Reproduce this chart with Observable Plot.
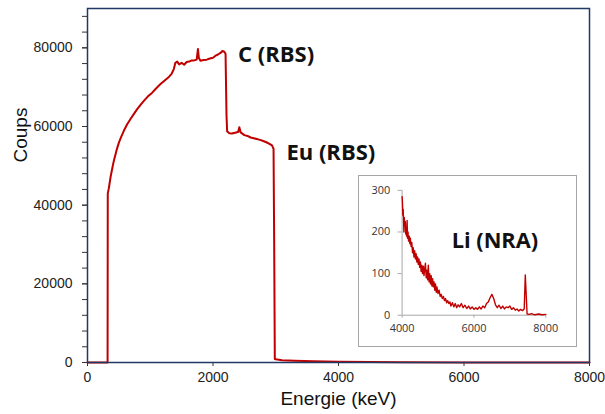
<!DOCTYPE html>
<html>
<head>
<meta charset="utf-8">
<script src="https://cdn.jsdelivr.net/npm/d3@7"></script>
<script src="https://cdn.jsdelivr.net/npm/@observablehq/plot@0.6"></script>
<style>
  html, body { margin: 0; padding: 0; background: white; }
  #wrap { position: relative; width: 605px; height: 414px; }
  #inset { position: absolute; left: 358px; top: 175px; width: 219px; height: 172px; box-sizing: border-box; border: 1px solid #a6a6a6; background: white; }
  #inset svg { position: absolute; left: -1px; top: -1px; overflow: visible; }
</style>
</head>
<body>
<div id="wrap"><div id="inset"></div></div>
<script>
// Main spectrum (RBS)
const mainEnergy = [0, 320, 323, 340, 367, 395, 420, 460, 500, 540, 579, 630, 685, 740, 792, 845, 898, 960, 1031, 1100, 1164, 1230, 1297, 1340, 1376, 1400, 1430, 1460, 1500, 1540, 1580, 1620, 1660, 1700, 1740, 1760, 1775, 1800, 1850, 1900, 1950, 2000, 2040, 2080, 2120, 2150, 2180, 2200, 2215, 2225, 2260, 2300, 2350, 2400, 2420, 2440, 2500, 2550, 2600, 2650, 2700, 2750, 2800, 2850, 2900, 2940, 2965, 2975, 2985, 3000, 3100, 3300, 3600, 4000, 4500, 5000, 6000, 7000, 8000];
const mainCounts = [0, 0, 43000, 44300, 47100, 49400, 51300, 53800, 55900, 57500, 58900, 60500, 61900, 63200, 64400, 65500, 66500, 67600, 68600, 69800, 70800, 71700, 72600, 73400, 74600, 76200, 76500, 75800, 76200, 75700, 76400, 76500, 76800, 76800, 77000, 79700, 77400, 76700, 76900, 77000, 77300, 77500, 78000, 78300, 78700, 79200, 79000, 78500, 63000, 58800, 58300, 58200, 58400, 58600, 59800, 58500, 57800, 57600, 57200, 57000, 56800, 56600, 56300, 56000, 55600, 55200, 54300, 30000, 900, 800, 600, 450, 300, 180, 100, 60, 25, 15, 5];

// Inset spectrum (NRA)
const insetEnergy = [4000, 4010, 4020, 4030, 4040, 4050, 4060, 4075, 4090, 4100, 4115, 4125, 4140, 4150, 4165, 4180, 4200, 4215, 4230, 4250, 4270, 4290, 4310, 4330, 4350, 4370, 4390, 4410, 4430, 4450, 4470, 4490, 4510, 4530, 4550, 4570, 4590, 4610, 4630, 4650, 4670, 4690, 4710, 4730, 4750, 4770, 4790, 4810, 4830, 4850, 4870, 4890, 4910, 4930, 4950, 4970, 5000, 5030, 5060, 5090, 5120, 5150, 5180, 5210, 5240, 5270, 5300, 5330, 5360, 5400, 5440, 5480, 5520, 5560, 5600, 5650, 5700, 5750, 5800, 5850, 5900, 5950, 6000, 6050, 6100, 6150, 6200, 6250, 6300, 6350, 6400, 6450, 6500, 6550, 6600, 6650, 6700, 6750, 6800, 6850, 6900, 6950, 7000, 7050, 7100, 7150, 7200, 7250, 7300, 7350, 7400, 7430, 7460, 7480, 7550, 7600, 7700, 7800, 7900, 8000];
const insetCounts = [285, 270, 240, 255, 230, 200, 235, 215, 225, 195, 210, 190, 228, 185, 200, 178, 190, 172, 185, 165, 175, 150, 162, 140, 155, 135, 148, 128, 140, 122, 135, 115, 128, 105, 120, 100, 118, 95, 112, 125, 90, 108, 85, 120, 80, 100, 75, 95, 70, 88, 68, 80, 60, 75, 55, 68, 52, 60, 45, 50, 40, 45, 35, 40, 30, 35, 28, 32, 22, 30, 20, 28, 18, 25, 20, 28, 18, 24, 16, 22, 15, 20, 14, 18, 14, 20, 15, 22, 18, 28, 32, 42, 50, 40, 25, 18, 24, 16, 22, 15, 20, 18, 22, 14, 18, 12, 15, 10, 14, 11, 15, 97, 40, 3, 2, 4, 1, 3, 1, 2];

const xTicks = [0, 2000, 4000, 6000, 8000];
const yTicks = [0, 20000, 40000, 60000, 80000];
const yMinorTicks = [0, 4000, 8000, 12000, 16000, 20000, 24000, 28000, 32000, 36000, 40000, 44000, 48000, 52000, 56000, 60000, 64000, 68000, 72000, 76000, 80000, 84000, 88000];
const insetXTicks = [4000, 6000, 8000];
const insetYTicks = [0, 100, 200, 300];

const peakLabels = [
  {e: 2400, c: 78200, label: "C (RBS)"},
  {e: 3170, c: 53400, label: "Eu (RBS)"}
];

const main = mainEnergy.map((e, i) => ({e, c: mainCounts[i]}));
const inset = insetEnergy.map((e, i) => ({e, c: insetCounts[i]}));
const fmt = d => String(d);

const mainPlot = Plot.plot({
  width: 605, height: 414,
  marginLeft: 87, marginRight: 16, marginTop: 8, marginBottom: 52,
  style: {fontFamily: "'Liberation Sans', Arial, sans-serif", fontSize: "14px", color: "#222", background: "white"},
  x: {domain: [0, 8000]},
  y: {domain: [0, 90000]},
  marks: [
    Plot.axisY({ticks: yMinorTicks, tickSize: 5, text: null, label: null, stroke: "#333"}),
    Plot.axisY({ticks: yTicks, tickSize: 5, tickPadding: 10, label: null, tickFormat: fmt, stroke: "#333"}),
    Plot.axisX({ticks: xTicks, tickSize: 4, tickPadding: 6, label: null, tickFormat: fmt, stroke: "#333"}),
    Plot.line(main, {x: "e", y: "c", stroke: "#c00000", strokeWidth: 2}),
    Plot.frame({stroke: "#1f3864", strokeWidth: 1.5}),
    Plot.text(peakLabels, {x: "e", y: "c", text: "label", textAnchor: "start", fontWeight: "bold", fontSize: 22, fontFamily: "'Open Sans', sans-serif", fill: "#111"}),
    Plot.text(["Coups"], {frameAnchor: "left", dx: -67, dy: -23, rotate: -90, fontSize: 19, fill: "#111"}),
    Plot.text(["Energie (keV)"], {frameAnchor: "bottom", dy: 42, fontSize: 19, fill: "#111"})
  ]
});
document.getElementById("wrap").insertBefore(mainPlot, document.getElementById("inset"));

const insetPlot = Plot.plot({
  width: 219, height: 172,
  marginLeft: 44, marginRight: 30, marginTop: 15, marginBottom: 31,
  style: {fontFamily: "'Open Sans', sans-serif", fontSize: "11px", color: "#333", background: "transparent"},
  x: {domain: [4000, 8000]},
  y: {domain: [0, 300]},
  marks: [
    Plot.axisY({ticks: insetYTicks, tickSize: 4, tickPadding: 8, label: null, tickFormat: fmt, stroke: "#a6a6a6"}),
    Plot.axisX({ticks: insetXTicks, tickSize: 3, tickPadding: 6, label: null, tickFormat: fmt, stroke: "#a6a6a6"}),
    Plot.ruleX([4000], {stroke: "#a6a6a6"}),
    Plot.ruleY([0], {stroke: "#a6a6a6"}),
    Plot.line(inset, {x: "e", y: "c", stroke: "#c00000", strokeWidth: 1.4}),
    Plot.text(["Li (NRA)"], {x: [5380], y: [178], textAnchor: "start", fontWeight: "bold", fontSize: 22, fill: "#111"})
  ]
});
document.getElementById("inset").appendChild(insetPlot);
</script>
</body>
</html>
